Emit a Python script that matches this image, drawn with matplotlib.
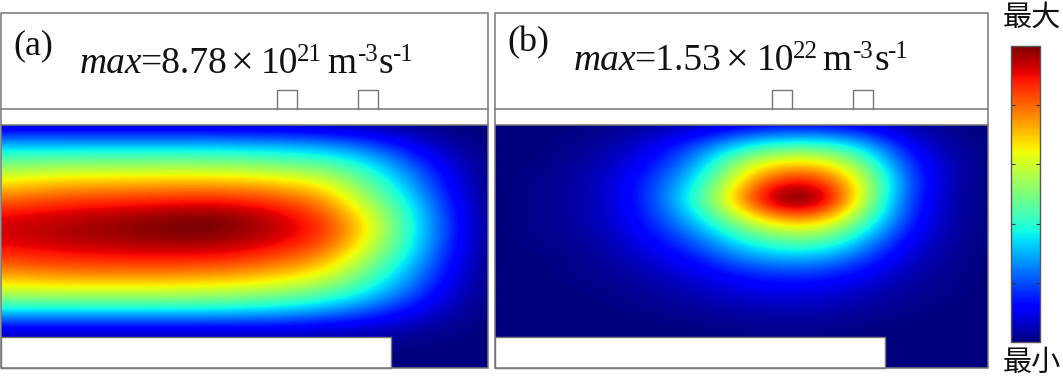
import numpy as np
import matplotlib
matplotlib.use("Agg")
import matplotlib.pyplot as plt
from matplotlib.patches import Rectangle
from matplotlib.cm import ScalarMappable
from matplotlib.colors import Normalize

W, H = 1063, 379
field_a = [
 [.04,.04,.04,.04,.04,.04,.04,.04,.03,.02,.01,0,0],
 [.30,.30,.30,.30,.30,.30,.29,.28,.26,.20,.11,.03,0],
 [.48,.49,.50,.50,.50,.50,.49,.47,.44,.36,.22,.08,0],
 [.65,.68,.70,.70,.71,.71,.70,.67,.62,.47,.30,.12,0],
 [.80,.83,.85,.86,.87,.88,.87,.83,.75,.55,.37,.15,0],
 [.92,.94,.96,.98,1.0,1.02,.99,.93,.85,.66,.41,.18,0],
 [.93,.95,.97,.98,1.0,1.0,.97,.93,.86,.66,.41,.18,0],
 [.86,.88,.89,.90,.90,.90,.88,.83,.76,.57,.37,.15,0],
 [.74,.76,.77,.77,.77,.76,.74,.70,.63,.47,.30,.12,0],
 [.57,.58,.58,.58,.58,.57,.55,.52,.46,.36,.23,.08,0],
 [.33,.33,.33,.33,.33,.33,.32,.30,.26,.20,.12,.04,0],
 [.07,.07,.07,.07,.07,.07,.07,.07,.06,.05,.03,.01,0],
 [0,0,0,0,0,0,0,0,0,0,0,0,0],
 [0,0,0,0,0,0,0,0,0,0,0,0,0],
]
field_b = [
 [0,0,0,.01,.02,.04,.08,.10,.10,.07,.03,.01,0],
 [0,0,.01,.04,.10,.20,.33,.40,.40,.31,.11,.03,0],
 [0,0,.02,.06,.15,.30,.56,.68,.67,.48,.18,.05,0],
 [0,.01,.03,.09,.20,.38,.68,.90,.87,.60,.22,.05,0],
 [0,.01,.03,.08,.22,.44,.78,1.08,1.02,.58,.20,.04,0],
 [0,.01,.03,.08,.19,.35,.58,.76,.74,.47,.18,.04,0],
 [0,.01,.02,.06,.14,.25,.40,.50,.50,.33,.12,.03,0],
 [0,0,.01,.04,.09,.16,.27,.32,.31,.20,.08,.02,0],
 [0,0,.01,.02,.05,.09,.14,.17,.16,.11,.04,.01,0],
 [0,0,0,.01,.03,.05,.08,.09,.08,.05,.02,.01,0],
 [0,0,0,0,.01,.02,.03,.04,.04,.02,.01,0,0],
 [0,0,0,0,0,0,.01,.01,.01,0,0,0,0],
 [0,0,0,0,0,0,0,0,0,0,0,0,0],
 [0,0,0,0,0,0,0,0,0,0,0,0,0],
]
panel_labels = ["(a)", "(b)"]
colorbar_labels = ["最大", "最小"]
colorbar_ticks = [0.2, 0.4, 0.6, 0.8]

LINE = "#777777"
fig = plt.figure(figsize=(W / 100, H / 100), dpi=100)
ax = fig.add_axes([0, 0, 1, 1])
ax.set_xlim(0, W)
ax.set_ylim(H, 0)
ax.axis("off")
SERIF = "Liberation Serif"


def panel(x0, x1, xcut, sq, field):
    arr = np.array(field)
    dx = (x1 - x0) / (arr.shape[1] - 1)
    dy = (368 - 125) / (arr.shape[0] - 1)
    im = ax.imshow(arr, cmap="jet", vmin=0, vmax=1, aspect="auto", interpolation="bicubic",
                   extent=(x0 - dx / 2, x1 + dx / 2, 368 + dy / 2, 125 - dy / 2), zorder=1)
    clip = Rectangle((x0, 125), x1 - x0, 243, transform=ax.transData)
    im.set_clip_path(clip)
    ax.add_patch(Rectangle((x0, 337), xcut - x0, 31, fc="white", ec=LINE, lw=1, zorder=2))
    ax.add_patch(Rectangle((x0, 13), x1 - x0, 355, fc="none", ec=LINE, lw=1.1, zorder=3))
    ax.plot([x0, x1], [109, 109], color=LINE, lw=1.1, zorder=3)
    ax.plot([x0, x1], [125, 125], color=LINE, lw=1.1, zorder=3)
    for s in sq:
        ax.plot([s, s, s + 20, s + 20], [109, 90, 90, 109], color=LINE, lw=1.0, zorder=3)


panel(1, 488, 391, [277, 358], field_a)
panel(495, 988, 885, [772, 853], field_b)


def txt(x, y, s, size=23, style="normal", family=SERIF, **kw):
    ax.text(x, y, s, fontsize=size, fontstyle=style, family=family, ha="left",
            va="baseline", color="#111111", zorder=5, **kw)


txt(13, 54, panel_labels[0], 26)
txt(80, 73, "max", 27, "italic")
txt(140, 73, "=8.78", 27)
txt(231, 74, "×", 29)
txt(261, 73, "10", 27)
txt(297, 61, "21", 18)
txt(327, 73, "m", 27)
txt(357, 61, "-3", 18)
txt(379, 73, "s", 27)
txt(392, 61, "-1", 18)

txt(507, 51, panel_labels[1], 26)
txt(574, 70, "max", 27, "italic")
txt(634, 70, "=1.53", 27)
txt(726, 71, "×", 29)
txt(757, 70, "10", 27)
txt(793, 58, "22", 18)
txt(822, 70, "m", 27)
txt(852, 58, "-3", 18)
txt(874, 70, "s", 27)
txt(887, 58, "-1", 18)

cax = fig.add_axes([1011 / W, 1 - 342 / H, 29 / W, 296 / H])
cb = fig.colorbar(ScalarMappable(Normalize(0, 1), "jet"), cax=cax)
cb.set_ticks(colorbar_ticks)
cb.ax.tick_params(left=True, right=True, direction="in", length=3, width=0.8,
                  color="#333333", labelright=False, labelleft=False)
cb.outline.set_edgecolor("#555555")
cb.outline.set_linewidth(1)

cjk = "Noto Sans CJK SC"
ax.text(1032, 18, colorbar_labels[0], fontsize=21, family=cjk, ha="center", va="center", color="#111111")
ax.text(1032, 363, colorbar_labels[1], fontsize=21, family=cjk, ha="center", va="center", color="#111111")

fig.savefig("out.png", dpi=100)
